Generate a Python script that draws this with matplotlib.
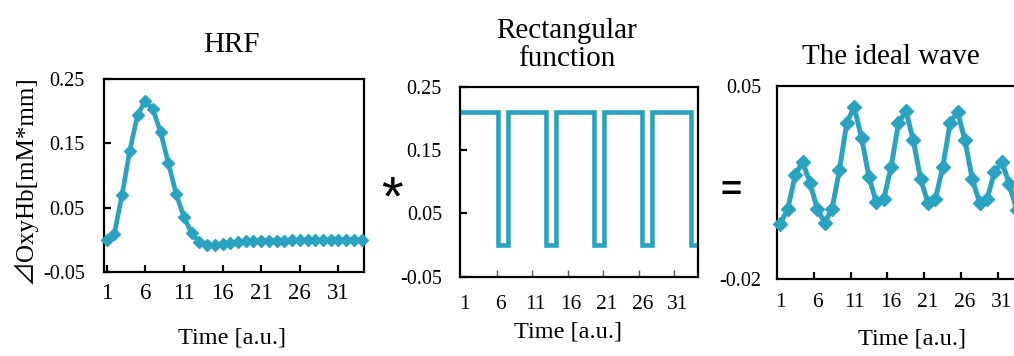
import matplotlib
matplotlib.use("Agg")
import matplotlib.pyplot as plt
import numpy as np

# === DATA
time_ticks = [1, 6, 11, 16, 21, 26, 31]

hrf = [0.0, 0.01, 0.07, 0.139, 0.194, 0.216, 0.203, 0.167, 0.119, 0.072,
       0.036, 0.011, -0.003, -0.008, -0.008, -0.006, -0.004, -0.003, -0.002, -0.002,
       -0.001, -0.001, -0.001, -0.001, 0.0, 0.0, 0.0, 0.0, 0.0, 0.0,
       0.0, 0.0, 0.0, 0.0]

rect_edges = [0.83, 6.2, 7.6, 12.9, 14.35, 19.7, 21.1, 26.5, 27.9, 33.4, 34.35]
rect_levels = [0.21, 0.0, 0.21, 0.0, 0.21, 0.0, 0.21, 0.0, 0.21, 0.0]

ideal = [0.0, 0.0053, 0.0175, 0.0225, 0.0149, 0.0053, 0.0004, 0.0053, 0.0195, 0.0367,
         0.0423, 0.0312, 0.0169, 0.0077, 0.0089, 0.0205, 0.0365, 0.041, 0.0304, 0.0162,
         0.0075, 0.0089, 0.0205, 0.0365, 0.0407, 0.0304, 0.0162, 0.0075, 0.0089, 0.0186,
         0.0225, 0.0145, 0.005]

# === STYLE
W, H = 1014, 356
blue = "#2aa3c2"
serif = ["Liberation Serif", "DejaVu Serif"]
plt.rcParams["font.family"] = serif
plt.rcParams["axes.linewidth"] = 1.6


def fx(px):
    return px / W


def fy(py):
    return 1 - py / H


def box(left, top, right, bottom):
    return [fx(left), fy(bottom), (right - left) / W, (bottom - top) / H]


fig = plt.figure(figsize=(W / 100, H / 100), dpi=100)

# ===== panel 1 : HRF
ax1 = fig.add_axes(box(104.3, 79, 364.3, 272.3))
x1 = np.arange(1, len(hrf) + 1)
ax1.plot(x1, hrf, color=blue, lw=3.4, marker="D", ms=6.6, clip_on=False, zorder=3)
ax1.set_xlim(0.7, 34.35)
ax1.set_ylim(-0.05, 0.25)
ax1.set_yticks([-0.05, 0.05, 0.15, 0.25])
ax1.set_yticklabels(["-0.05", "0.05", "0.15", "0.25"])
ax1.set_xticks(time_ticks)
ax1.tick_params(axis="x", direction="in", length=5, width=1.6, labelsize=16.5, pad=8)
ax1.tick_params(axis="y", direction="in", length=5, width=1.6, labelsize=14.5, pad=14)

# ===== panel 2 : rectangular function
ax2 = fig.add_axes(box(460, 86.7, 698, 276.7))
ax2.stairs(rect_levels, rect_edges, baseline=None, color=blue, lw=3.3)
ax2.set_xlim(0.83, 34.35)
ax2.set_ylim(-0.05, 0.25)
ax2.set_yticks([-0.05, 0.05, 0.15, 0.25])
ax2.set_yticklabels(["-0.05", "0.05", "0.15", "0.25"])
ax2.set_xticks(time_ticks[1:])
ax2.set_xticklabels([])
ax2.set_xticks([t + 0.5 for t in time_ticks], [str(t) for t in time_ticks], minor=True)
ax2.tick_params(axis="x", which="major", direction="in", length=5, width=1, color="#555555")
ax2.tick_params(axis="x", which="minor", length=0, labelsize=15.5, pad=13)
ax2.tick_params(axis="y", direction="in", length=5, width=1.6, labelsize=14.5, pad=13)

# ===== panel 3 : ideal wave (runs past the right edge)
ax3 = fig.add_axes(box(776.7, 86, 776.7 + 34 * 7.38, 278.7))
x3 = np.arange(1, len(ideal) + 1)
ax3.plot(x3, ideal, color=blue, lw=3.6, marker="D", ms=7, clip_on=False, zorder=3)
ax3.set_xlim(0.5, 34.5)
ax3.set_ylim(-0.02, 0.05)
ax3.set_yticks([-0.02, 0.05])
ax3.set_yticklabels(["-0.02", "0.05"])
ax3.set_xticks([t - 0.5 for t in time_ticks[1:]])
ax3.set_xticklabels([])
ax3.set_xticks(time_ticks, [str(t) for t in time_ticks], minor=True)
ax3.tick_params(axis="x", which="major", direction="in", length=5, width=1.6)
ax3.tick_params(axis="x", which="minor", length=0, labelsize=15.5, pad=10)
ax3.tick_params(axis="y", length=0, labelsize=14.5, pad=11)

# ===== texts
fig.text(fx(231), fy(45), "HRF", ha="center", va="center", fontsize=21)
fig.text(fx(567), fy(45), "Rectangular\nfunction", ha="center", va="center",
         fontsize=21, linespacing=1.05)
fig.text(fx(891), fy(57), "The ideal wave", ha="center", va="center", fontsize=21)

for xc, yc in [(232, 338), (568, 332), (912, 339)]:
    fig.text(fx(xc), fy(yc), "Time [a.u.]", ha="center", va="center", fontsize=17.5)

fig.text(fx(24), fy(180), "\u22bfOxyHb[mM*mm]", rotation=90, ha="center", va="center",
         fontsize=18, family=["Liberation Serif", "Noto Sans CJK JP", "DejaVu Sans"])

fig.text(fx(392), fy(200), "*", ha="center", va="center", fontsize=40,
         family=["Liberation Sans", "DejaVu Sans"])
fig.text(fx(731), fy(192), "=", ha="center", va="center", fontsize=26,
         fontweight="bold", family=["Liberation Sans", "DejaVu Sans"])

fig.savefig("out.png", dpi=100)
